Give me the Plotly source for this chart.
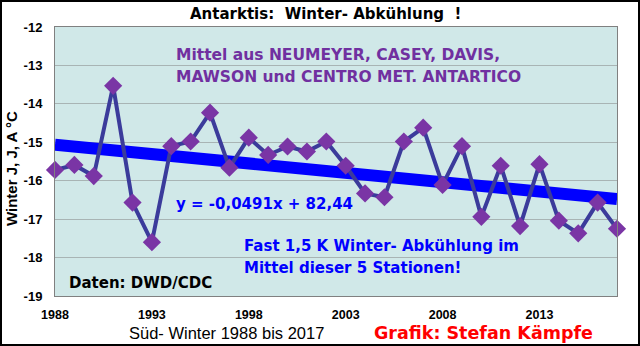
import numpy as np
import plotly.graph_objects as go

years = list(range(1988, 2018))
temps = [-15.72, -15.59, -15.88, -13.53, -16.57, -17.60, -15.10, -14.98, -14.23, -15.66,
         -14.88, -15.33, -15.11, -15.24, -14.98, -15.61, -16.33, -16.43, -14.98, -14.62,
         -16.11, -15.10, -16.94, -15.61, -17.18, -15.57, -17.04, -17.37, -16.57, -17.25]
x_ticks = [1988, 1993, 1998, 2003, 2008, 2013]
y_ticks = [-12, -13, -14, -15, -16, -17, -18, -19]

slope, intercept = np.polyfit(years, temps, 1)
trend = [slope * y + intercept for y in years]

W, H = 640, 346
L, R, T, B = 55, 23, 27, 50
pw, ph = W - L - R, H - T - B

def px(x):
    return (x - L) / pw

def py(y):
    return (H - B - y) / ph

font = "Liberation Sans, Arial, sans-serif"
bfont = "DejaVu Sans, Liberation Sans, sans-serif"

fig = go.Figure()
fig.add_trace(go.Scatter(x=[years[0], years[-1]], y=[trend[0], trend[-1]], mode="lines",
                         line=dict(color="#0000ff", width=12), hoverinfo="skip", showlegend=False))
fig.add_trace(go.Scatter(x=years, y=temps, mode="lines+markers",
                         line=dict(color="#3b3b9b", width=4),
                         marker=dict(symbol="diamond", size=14, color="#7a35a5"),
                         cliponaxis=False, showlegend=False))

fig.update_layout(
    width=W, height=H, margin=dict(l=L, r=R, t=T, b=B),
    paper_bgcolor="white", plot_bgcolor="#d0e8e8",
    font=dict(family=font, color="black"),
    xaxis=dict(range=[1988, 2017], tickvals=x_ticks, ticktext=[f"<b>{v}</b>" for v in x_ticks],
               showgrid=False, zeroline=False, showline=True, linecolor="#808080", linewidth=1,
               mirror=True, ticks="", tickfont=dict(size=12.5, family=font), ticklabelstandoff=7),
    yaxis=dict(range=[-19, -12], tickvals=y_ticks, ticktext=[f"<b>{v}</b>" for v in y_ticks],
               showgrid=True, gridcolor="#a8b4b4", gridwidth=1, zeroline=False,
               showline=True, linecolor="#808080", linewidth=1, mirror=True, ticks="",
               tickfont=dict(size=13, family=font), ticklabelstandoff=9),
    shapes=[dict(type="rect", xref="paper", yref="paper",
                 x0=px(1), x1=px(W - 1), y0=py(H - 1), y1=py(1),
                 line=dict(color="black", width=2), fillcolor="rgba(0,0,0,0)", layer="above")],
)

def ann(text, x, y, size, color, bold=True, xanchor="left", angle=0, fam=bfont):
    fig.add_annotation(text=(f"<b>{text}</b>" if bold else text), x=px(x), y=py(y),
                       xref="paper", yref="paper", xanchor=xanchor, yanchor="middle",
                       showarrow=False, textangle=angle,
                       font=dict(size=size, color=color, family=fam))

ann("Antarktis:  Winter- Abkühlung  !", 325, 14, 15, "black", xanchor="center")
ann("Winter J, J, A °C", 12, 169, 15, "black", xanchor="center", angle=-90, fam=font)
ann("Mittel aus NEUMEYER, CASEY, DAVIS,", 174, 55, 15.5, "#7030a0")
ann("MAWSON und CENTRO MET. ANTARTICO", 174, 77, 15.5, "#7030a0")
ann("y = -0,0491x + 82,44", 174, 204, 15, "#0000ff")
ann("Fast 1,5 K Winter- Abkühlung im", 242, 246, 15, "#0000ff")
ann("Mittel dieser 5 Stationen!", 242, 268, 15, "#0000ff")
ann("Daten: DWD/CDC", 67, 283, 15, "black")
ann("Süd- Winter 1988 bis 2017", 226, 333, 16.5, "black", bold=False, xanchor="center", fam=font)
ann("Grafik: Stefan Kämpfe", 483, 333, 17.5, "#ff0000", xanchor="center")

fig.write_html("out.html")
